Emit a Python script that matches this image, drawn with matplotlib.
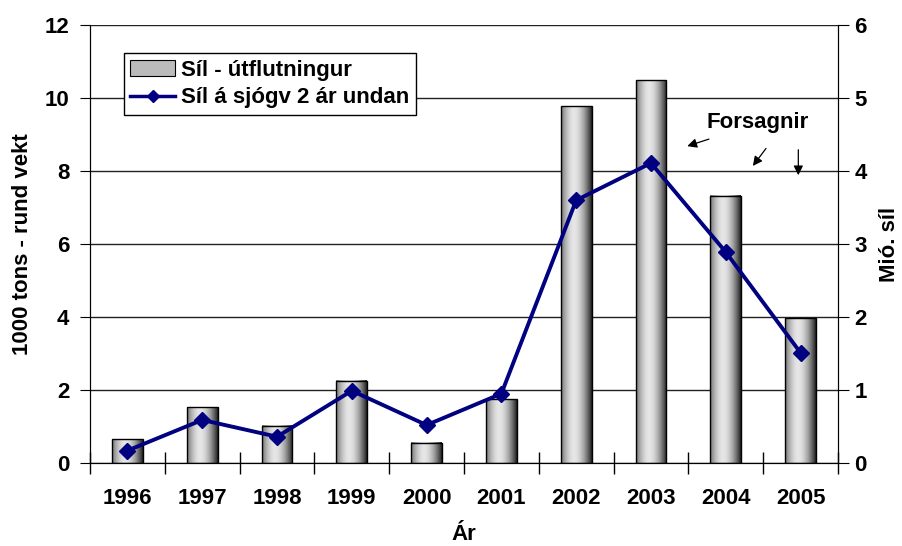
import numpy as np
import matplotlib
matplotlib.use("Agg")
import matplotlib.pyplot as plt
from matplotlib.lines import Line2D
from matplotlib.patches import Patch

plt.rcParams['font.family'] = ['Liberation Sans', 'DejaVu Sans']
plt.rcParams['font.weight'] = 'bold'

years = ['1996', '1997', '1998', '1999', '2000', '2001', '2002', '2003', '2004', '2005']
export = [0.65, 1.53, 1.02, 2.25, 0.55, 1.75, 9.78, 10.49, 7.32, 3.97]
sea = [0.17, 0.59, 0.36, 0.99, 0.52, 0.95, 3.60, 4.11, 2.89, 1.51]

fs = 16
fig = plt.figure(figsize=(9.02, 5.46), dpi=100)
ax = fig.add_axes([0.0998, 0.152, 0.8292, 0.802])
ax2 = ax.twinx()

x = np.arange(len(years))
w = 0.41

# cylinder shading for the bars
t = np.linspace(-1, 1, 64)
shade = 0.3 + 0.6 * (1 - np.abs(t + 0.15) ** 1.8)
grad = np.tile(shade, (2, 1))
for xi, h in zip(x, export):
    ax.imshow(grad, cmap='gray', vmin=0, vmax=1, extent=[xi - w / 2, xi + w / 2, 0, h],
              aspect='auto', zorder=2, interpolation='bilinear')
    ax.bar(xi, h, width=w, facecolor='none', edgecolor='black', linewidth=1, zorder=3)

ax.set_xlim(-0.5, len(years) - 0.5)
ax.set_ylim(0, 12)
ax.set_yticks(range(0, 13, 2))
ax.grid(axis='y', color='#222222', linewidth=1, zorder=0)
ax.set_axisbelow(True)
ax.set_xticks(x)
ax.set_xticklabels(years)
ax.set_xticks(np.arange(-0.5, len(years)), minor=True)
ax.tick_params(axis='x', which='major', length=0, pad=18, labelsize=fs)
ax.tick_params(axis='x', which='minor', length=16, direction='inout', width=1)
ax.tick_params(axis='y', direction='out', length=7, labelsize=fs, pad=8)
ax.spines['top'].set_visible(False)

ax2.plot(x, sea, color='#000080', linewidth=2.8, marker='D', markersize=8, zorder=5)
ax2.set_ylim(0, 6)
ax2.set_yticks(range(0, 7))
ax2.tick_params(axis='y', direction='out', length=8, labelsize=fs, pad=4)
ax2.spines['top'].set_visible(False)

ax.set_ylabel('1000 tons - rund vekt', fontsize=fs, fontweight='bold', labelpad=8)
ax2.set_ylabel('Mió. síl', fontsize=fs, fontweight='bold', labelpad=9)
ax.set_xlabel('Ár', fontsize=fs, fontweight='bold', labelpad=11)

# legend
handles = [Patch(facecolor='#bbbbbb', edgecolor='black', linewidth=0.8),
           Line2D([0], [0], color='#000080', linewidth=2.5, marker='D', markersize=6)]
leg = ax2.legend(handles, ['Síl - útflutningur', 'Síl á sjógv 2 ár undan'],
                 loc='upper left', bbox_to_anchor=(0.045, 0.936), fontsize=fs,
                 frameon=True, fancybox=False, edgecolor='black', framealpha=1,
                 handlelength=2.0, handletextpad=0.3, borderpad=0.3, labelspacing=0.3,
                 borderaxespad=0)
leg.get_frame().set_linewidth(1)

# forecast note with arrows
ax.text(8.42, 9.34, 'Forsagnir', ha='center', va='center', fontsize=fs, fontweight='bold')
arrows = [((7.81, 8.90), (7.45, 8.66)), ((8.56, 8.68), (8.34, 8.08)), ((8.97, 8.66), (8.97, 7.81))]
for tail, head in arrows:
    ax.annotate('', xy=head, xytext=tail,
                arrowprops=dict(arrowstyle='-|>', color='black', lw=0.9, mutation_scale=14))

fig.savefig('out.png', dpi=100)
